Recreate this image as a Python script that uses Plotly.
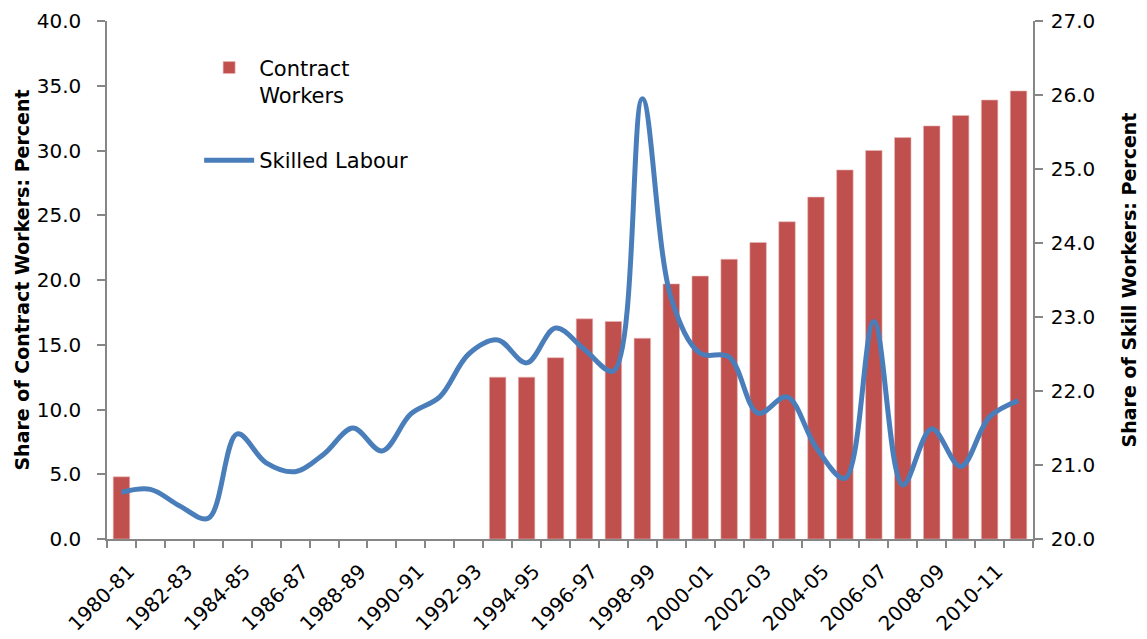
import plotly.graph_objects as go

categories = ["1980-81", "1981-82", "1982-83", "1983-84", "1984-85", "1985-86", "1986-87", "1987-88",
              "1988-89", "1989-90", "1990-91", "1991-92", "1992-93", "1993-94", "1994-95", "1995-96",
              "1996-97", "1997-98", "1998-99", "1999-00", "2000-01", "2001-02", "2002-03", "2003-04",
              "2004-05", "2005-06", "2006-07", "2007-08", "2008-09", "2009-10", "2010-11", "2011-12"]

contract_workers = [4.8, None, None, None, None, None, None, None, None, None, None, None, None,
                    12.5, 12.5, 14.0, 17.0, 16.8, 15.5, 19.7, 20.3, 21.6, 22.9, 24.5, 26.4,
                    28.5, 30.0, 31.0, 31.9, 32.7, 33.9, 34.6]

skilled_labour = [20.63, 20.67, 20.45, 20.28, 21.42, 21.03, 20.91, 21.15, 21.50, 21.19, 21.69,
                  21.92, 22.50, 22.69, 22.38, 22.85, 22.56, 22.27, 25.95, 23.25, 22.51, 22.46,
                  21.70, 21.92, 21.24, 20.82, 22.94, 20.73, 21.49, 20.98, 21.65, 21.87]

left_ticks = [0, 5, 10, 15, 20, 25, 30, 35, 40]
right_ticks = [20, 21, 22, 23, 24, 25, 26, 27]

x = list(range(len(categories)))
FONT = "DejaVu Sans"
AX = "#868686"

fig = go.Figure()
fig.add_trace(go.Bar(
    x=x, y=contract_workers, name="Contract<br>Workers",
    marker=dict(color="#C0504D", line=dict(color="#E6B9B8", width=0.6)),
    width=0.57, yaxis="y", legendgroup="a",
))
fig.add_trace(go.Scatter(
    x=x, y=skilled_labour, name="Skilled Labour", mode="lines",
    line=dict(color="#4A7EBB", width=5, shape="spline", smoothing=1.0),
    yaxis="y2", legendgroup="b",
))

fig.update_layout(
    width=1147, height=639,
    margin=dict(l=107, r=114, t=21, b=100, autoexpand=False),
    paper_bgcolor="white", plot_bgcolor="white",
    font=dict(family=FONT, size=20, color="#000000"),
    showlegend=True,
    legend=dict(x=0.0995, y=0.949, xanchor="left", yanchor="top",
                font=dict(family=FONT, size=21, color="#000000"),
                bgcolor="rgba(0,0,0,0)", tracegroupgap=35, valign="top",
                itemwidth=50),
    xaxis=dict(
        range=[-0.5, len(categories) - 0.5], automargin=False,
        tickvals=[i + 0.25 for i in x[::2]], ticktext=categories[::2], tickangle=-45,
        ticks="", showline=True, linecolor=AX, linewidth=1.5,
        showgrid=False, zeroline=False, ticklabelstandoff=11,
        tickfont=dict(family=FONT, size=20),
        minor=dict(tickvals=[i - 0.5 for i in x] + [len(x) - 0.5], ticks="outside",
                   ticklen=7, tickcolor=AX, tickwidth=1.5, showgrid=False),
    ),
    yaxis=dict(
        range=[0, 40], tickvals=left_ticks, tickformat=".1f", automargin=False,
        ticks="outside", ticklen=8, tickcolor=AX, tickwidth=1.5, ticklabelstandoff=12,
        showline=True, linecolor=AX, linewidth=1.5, showgrid=False, zeroline=False,
        title=dict(text="Share of Contract Workers: Percent", standoff=2,
                   font=dict(family=FONT, size=19, color="#000000", weight="bold")),
        tickfont=dict(family=FONT, size=20),
    ),
    yaxis2=dict(
        range=[20, 27], tickvals=right_ticks, tickformat=".1f", automargin=False,
        overlaying="y", side="right",
        ticks="outside", ticklen=8, tickcolor=AX, tickwidth=1.5, ticklabelstandoff=4,
        showline=True, linecolor=AX, linewidth=1.5, showgrid=False, zeroline=False,
        title=dict(text="Share of Skill Workers: Percent", standoff=28,
                   font=dict(family=FONT, size=19, color="#000000", weight="bold")),
        tickfont=dict(family=FONT, size=20),
    ),
)

fig.write_html("out.html", config={"displayModeBar": False},
               post_script="document.body.style.margin='0px';")
